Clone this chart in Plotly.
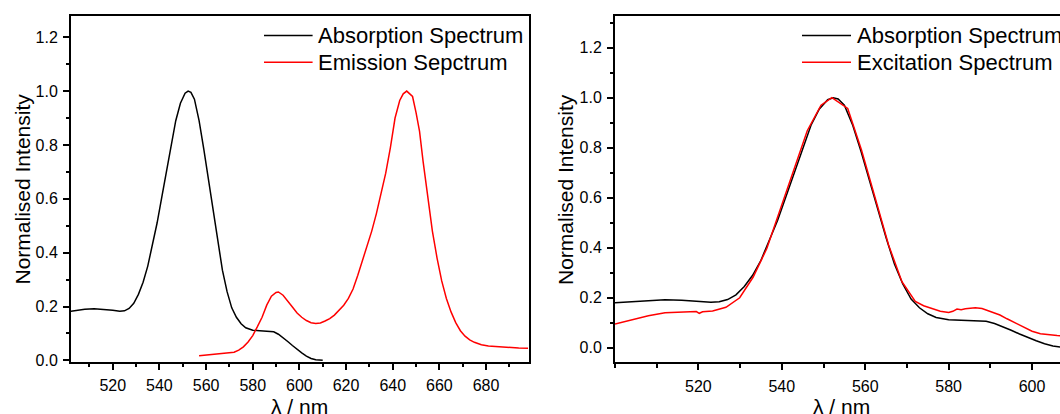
import plotly.graph_objects as go

# ---------------- data ----------------
abs_x = [500, 504, 508, 512, 516, 520, 523, 525, 527, 529, 531, 533, 535, 537, 539, 541,
         543, 545, 547, 549, 551, 552.3, 553.5, 555, 557, 559, 561, 563, 565, 567, 569,
         571, 573, 575, 577, 580, 583, 586, 589, 591, 593, 595, 597, 599, 601, 603, 605,
         607, 610]
abs_y = [0.180, 0.185, 0.190, 0.192, 0.190, 0.186, 0.182, 0.184, 0.193, 0.212, 0.245,
         0.290, 0.350, 0.430, 0.510, 0.605, 0.700, 0.800, 0.890, 0.955, 0.992, 1.000,
         0.995, 0.970, 0.890, 0.785, 0.670, 0.550, 0.440, 0.335, 0.255, 0.195, 0.160,
         0.136, 0.121, 0.112, 0.110, 0.109, 0.106, 0.097, 0.085, 0.070, 0.055, 0.040,
         0.028, 0.016, 0.007, 0.002, 0.000]

em_x = [557, 561, 565, 569, 572, 574, 576, 578, 580, 582, 584, 586, 588, 590, 591, 593,
        595, 597, 599, 601, 603, 605, 607, 609, 611, 613, 615, 617, 619, 621, 623, 625,
        627, 629, 631, 633, 635, 637, 639, 641, 643, 644.5, 646, 647.5, 648.5, 650,
        651.5, 653, 655, 657, 659, 661, 663, 665, 667, 669, 671, 673, 675, 678, 681,
        685, 690, 694, 698]
em_y = [0.017, 0.020, 0.023, 0.025, 0.030, 0.038, 0.050, 0.068, 0.092, 0.125, 0.160,
        0.205, 0.238, 0.252, 0.254, 0.242, 0.222, 0.198, 0.176, 0.160, 0.148, 0.140,
        0.137, 0.139, 0.146, 0.155, 0.168, 0.185, 0.205, 0.230, 0.265, 0.315, 0.370,
        0.420, 0.480, 0.545, 0.620, 0.695, 0.790, 0.900, 0.965, 0.990, 1.000, 0.988,
        0.980, 0.920, 0.850, 0.740, 0.600, 0.480, 0.380, 0.295, 0.230, 0.180, 0.140,
        0.110, 0.090, 0.076, 0.067, 0.058, 0.053, 0.050, 0.047, 0.046, 0.045]

exc_x = [500, 504, 508, 512, 516, 519.5, 520.2, 521, 523.4, 526.6, 529.9, 533.1, 536.4,
         539.6, 542.9, 546.1, 549.4, 552, 555.8, 559.1, 562.3, 565.6, 568.8, 572, 574,
         576.3, 578, 580, 581, 582, 583, 584, 586.4, 588, 590, 592.3, 594, 596, 598, 600,
         602, 604, 606, 608, 610]
exc_y = [0.095, 0.111, 0.128, 0.140, 0.144, 0.145, 0.138, 0.144, 0.147, 0.162, 0.200,
         0.282, 0.397, 0.551, 0.711, 0.868, 0.970, 1.000, 0.957, 0.791, 0.604, 0.411,
         0.264, 0.185, 0.168, 0.154, 0.146, 0.141, 0.146, 0.155, 0.152, 0.156, 0.160,
         0.157, 0.146, 0.131, 0.116, 0.099, 0.081, 0.066, 0.056, 0.051, 0.049, 0.048,
         0.048]

left_xticks = [520, 540, 560, 580, 600, 620, 640, 660, 680]
right_xticks = [520, 540, 560, 580, 600]
yticks = [0.0, 0.2, 0.4, 0.6, 0.8, 1.0, 1.2]

left_names = ["Absorption Spectrum", "Emission Sepctrum"]
right_names = ["Absorption Spectrum", "Excitation Spectrum"]
x_title = "λ / nm"
y_title = "Normalised Intensity"

# ---------------- style ----------------
W, H = 1060, 414
FONT = "Arial, Liberation Sans, sans-serif"
BLACK, RED = "#000000", "#ff0000"
LW = 1.5


def px(x):
    return x / W


def py(y):
    return 1 - y / H


fig = go.Figure()
fig.add_trace(go.Scatter(x=abs_x, y=abs_y, mode="lines", line=dict(color=BLACK, width=LW),
                         name=left_names[0], xaxis="x", yaxis="y"))
fig.add_trace(go.Scatter(x=em_x, y=em_y, mode="lines", line=dict(color=RED, width=LW),
                         name=left_names[1], xaxis="x", yaxis="y"))
fig.add_trace(go.Scatter(x=abs_x, y=abs_y, mode="lines", line=dict(color=BLACK, width=LW),
                         name=right_names[0], xaxis="x2", yaxis="y2"))
fig.add_trace(go.Scatter(x=exc_x, y=exc_y, mode="lines", line=dict(color=RED, width=LW),
                         name=right_names[1], xaxis="x2", yaxis="y2"))

tickfont = dict(family=FONT, size=16, color=BLACK)
common = dict(showline=True, linecolor=BLACK, linewidth=2, ticks="outside", ticklen=6,
              tickwidth=2, tickcolor=BLACK, showgrid=False, zeroline=False,
              tickfont=tickfont, ticklabelstandoff=2, automargin=False, tickmode="array")


def minor(dt, t0):
    return dict(dtick=dt, tick0=t0, ticklen=3.5, tickwidth=2, ticks="outside",
                tickcolor=BLACK, showgrid=False)


fig.update_layout(
    width=W, height=H, margin=dict(l=0, r=0, t=0, b=0, pad=0, autoexpand=False),
    paper_bgcolor="white", plot_bgcolor="white", showlegend=False,
    xaxis=dict(domain=[px(71), px(528.5)], range=[502.1, 698.2], anchor="y",
               tickvals=left_xticks, mirror=True, minor=minor(10, 500), **common),
    yaxis=dict(domain=[py(361.7), py(15.7)], range=[-0.005, 1.28], anchor="x",
               tickvals=yticks, tickformat=".1f", mirror=True, minor=minor(0.1, 0), **common),
    xaxis2=dict(domain=[px(615), 1.0], range=[500, 606.7], anchor="y2",
                tickvals=right_xticks, mirror=True, minor=minor(10, 500), **common),
    yaxis2=dict(domain=[py(362.3), py(15.7)], range=[-0.058, 1.328], anchor="x2",
                tickvals=yticks, tickformat=".1f", mirror=False, minor=minor(0.1, 0), **common),
)

titlefont = dict(family=FONT, size=21, color=BLACK)
legfont = dict(family=FONT, size=22, color=BLACK)
ann = []
# axis titles
for xc in (299.5, 841):
    ann.append(dict(text=x_title, x=px(xc), y=py(393), xref="paper", yref="paper",
                    xanchor="center", yanchor="top", showarrow=False, font=titlefont))
for xc in (22, 565.5):
    ann.append(dict(text=y_title, x=px(xc), y=py(189.5), xref="paper", yref="paper",
                    xanchor="center", yanchor="middle", textangle=-90, showarrow=False,
                    font=titlefont))

# legends
shapes = []
legend_specs = [(264, 312.6, 316, left_names), (802, 851, 854.5, right_names)]
for (lx0, lx1, tx, names) in legend_specs:
    for name, color, yy in zip(names, (BLACK, RED), (35.5, 62.3)):
        shapes.append(dict(type="line", xref="paper", yref="paper", x0=px(lx0), x1=px(lx1),
                           y0=py(yy), y1=py(yy), line=dict(color=color, width=LW)))
        ann.append(dict(text=name, x=px(tx), y=py(yy), xref="paper", yref="paper",
                        xanchor="left", yanchor="middle", showarrow=False, font=legfont))

fig.update_layout(annotations=ann, shapes=shapes)
fig.write_html("out.html", config={"displayModeBar": False},
               post_script="document.body.style.margin='0';document.body.style.overflow='hidden';")
